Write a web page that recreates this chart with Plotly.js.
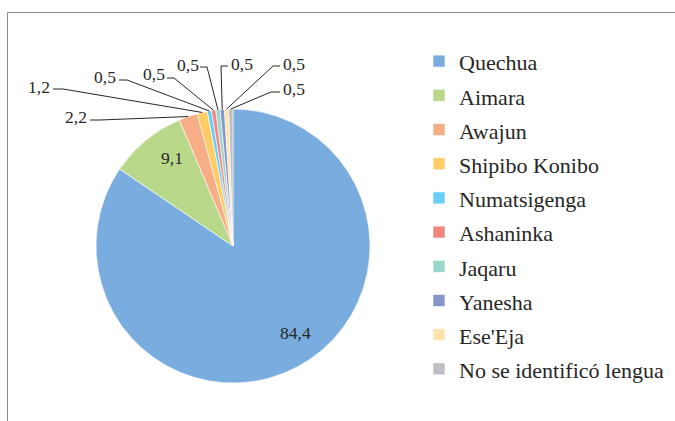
<!DOCTYPE html>
<html>
<head>
<meta charset="utf-8">
<script src="https://cdn.plot.ly/plotly-3.0.1.min.js"></script>
<style>html,body{margin:0;padding:0;background:#fff;}#chart{width:675px;height:421px;}</style>
</head>
<body>
<div id="chart"></div>
<script>
// ---- data ----
const categories = ['Quechua', 'Aimara', 'Awajun', 'Shipibo Konibo', 'Numatsigenga', 'Ashaninka', 'Jaqaru', 'Yanesha', "Ese'Eja", 'No se identificó lengua'];
const values = [84.4, 9.1, 2.2, 1.2, 0.5, 0.5, 0.5, 0.5, 0.5, 0.5];
const colors = ['#7AADDF', '#B9D88A', '#F7AD85', '#FFCC66', '#6ACDF5', '#F28583', '#9AD6CA', '#8596CA', '#FFE2AE', '#BEBFC4'];

// ---- layout / style (pixels) ----
const W = 675, H = 421;
const CX = 233, CY = 246, R = 137;
const FONT = 'Liberation Serif';
// label centre; leader start [x, y, elbow x] (null = no leader)
const labelStyle = [
  {tx: 295, ty: 333, lead: null},
  {tx: 172, ty: 158, lead: null},
  {tx: 76, ty: 117, lead: [90, 120, 100]},
  {tx: 39, ty: 87, lead: [53, 89, 63]},
  {tx: 105, ty: 77, lead: [119, 80, 127]},
  {tx: 154, ty: 74, lead: [167, 78, 174]},
  {tx: 188, ty: 65, lead: [200, 67, 207]},
  {tx: 242, ty: 64, lead: [228, 66, 221]},
  {tx: 294, ty: 64, lead: [280, 66, 273]},
  {tx: 294, ty: 89, lead: [280, 92, 271]}
];

const px = x => x / W;
const py = y => 1 - y / H;
const fmt = v => v.toFixed(1).replace('.', ',');

const total = values.reduce((a, b) => a + b, 0);
let cum = 0;
const annotations = [];
const shapes = [{
  type: 'rect', xref: 'paper', yref: 'paper',
  x0: px(7.5), x1: 1.05, y0: -0.05, y1: py(12.5),
  line: {color: '#8a8a8a', width: 1}, fillcolor: 'rgba(0,0,0,0)', layer: 'below'
}];
values.forEach((v, i) => {
  const mid = 2 * Math.PI * (cum + v / 2) / total;
  cum += v;
  const s = labelStyle[i];
  annotations.push({
    xref: 'paper', yref: 'paper', x: px(s.tx), y: py(s.ty),
    xanchor: 'center', yanchor: 'middle', showarrow: false,
    text: fmt(v),
    font: {family: FONT, size: 17.5, color: '#262626'}
  });
  if (s.lead) {
    const ex = CX + R * Math.sin(mid), ey = CY - R * Math.cos(mid);
    const [sx, sy, bx] = s.lead;
    shapes.push({
      type: 'path', xref: 'paper', yref: 'paper',
      path: `M${px(sx)},${py(sy)} L${px(bx)},${py(sy)} L${px(ex)},${py(ey)}`,
      line: {color: '#262626', width: 1}
    });
  }
});

const trace = {
  type: 'pie',
  labels: categories.map(c => '<span style="font-size:22px">' + c + '</span>'),
  values: values,
  sort: false,
  direction: 'clockwise',
  rotation: 0,
  textinfo: 'none',
  hoverinfo: 'skip',
  marker: {colors: colors, line: {color: '#ffffff', width: 0.6}},
  domain: {x: [px(CX - R), px(CX + R)], y: [py(CY + R), py(CY - R)]}
};

const layout = {
  width: W, height: H,
  margin: {l: 0, r: 0, t: 0, b: 0},
  paper_bgcolor: '#ffffff',
  font: {family: FONT, color: '#262626'},
  showlegend: true,
  legend: {
    x: px(419), y: py(39), xanchor: 'left', yanchor: 'top',
    font: {family: FONT, size: 24, color: '#262626'},
    bgcolor: 'rgba(0,0,0,0)', borderwidth: 0
  },
  annotations: annotations,
  shapes: shapes
};

Plotly.newPlot('chart', [trace], layout, {displayModeBar: false, staticPlot: true});
</script>
</body>
</html>
